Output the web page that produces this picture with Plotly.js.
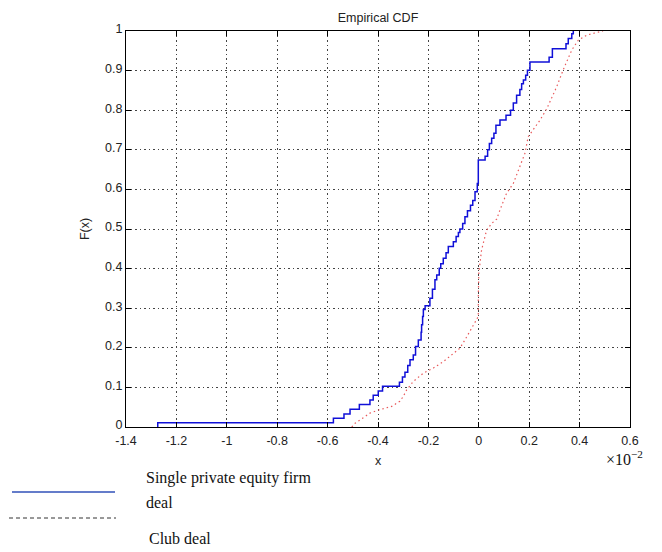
<!DOCTYPE html>
<html>
<head>
<meta charset="utf-8">
<script src="https://cdn.plot.ly/plotly-3.0.1.min.js"></script>
<style>html,body{margin:0;padding:0;background:#fff;}#chart{width:662px;height:552px;}</style>
</head>
<body>
<div id="chart"></div>
<script>
// Single private equity firm deal: ECDF step positions (x, in units of 1e-2) and level after the step
var singleX = [-1.274, -1.274, -0.577, -0.535, -0.511, -0.474, -0.432, -0.419, -0.399, -0.382,
  -0.315, -0.303, -0.293, -0.282, -0.273, -0.260, -0.251, -0.240, -0.229, -0.227,
  -0.223, -0.220, -0.213, -0.194, -0.184, -0.174, -0.167, -0.157, -0.151, -0.141,
  -0.130, -0.121, -0.101, -0.090, -0.081, -0.075, -0.064, -0.055, -0.045, -0.033,
  -0.024, -0.015, -0.006, -0.002, 0.025, 0.035, 0.042, 0.051, 0.060, 0.068,
  0.084, 0.108, 0.126, 0.137, 0.150, 0.163, 0.170, 0.177, 0.186, 0.193,
  0.203, 0.279, 0.292, 0.346, 0.355, 0.369, 0.375];
var singleF = [0.000, 0.011, 0.022, 0.033, 0.045, 0.057, 0.068, 0.080, 0.091, 0.103,
  0.113, 0.126, 0.138, 0.155, 0.170, 0.182, 0.203, 0.220, 0.239, 0.258,
  0.279, 0.297, 0.306, 0.325, 0.348, 0.372, 0.384, 0.401, 0.412, 0.426,
  0.440, 0.456, 0.468, 0.481, 0.491, 0.500, 0.514, 0.531, 0.546, 0.560,
  0.572, 0.594, 0.615, 0.674, 0.684, 0.700, 0.716, 0.729, 0.742, 0.762,
  0.775, 0.787, 0.800, 0.818, 0.838, 0.852, 0.867, 0.876, 0.888, 0.901,
  0.922, 0.934, 0.955, 0.968, 0.981, 0.993, 1.000];

// Club deal: points read along the dotted ECDF
var clubX = [-0.504, -0.490, -0.471, -0.432, -0.392, -0.346, -0.313, -0.300, -0.286, -0.260,
  -0.220, -0.180, -0.141, -0.108, -0.075, -0.055, -0.035, -0.015, -0.002, -0.002,
  0.000, 0.011, 0.031, 0.051, 0.071, 0.084, 0.110, 0.137, 0.163, 0.183,
  0.196, 0.216, 0.243, 0.270, 0.309, 0.335, 0.369, 0.395, 0.430, 0.460, 0.493];
var clubF = [0.000, 0.010, 0.018, 0.035, 0.044, 0.052, 0.065, 0.077, 0.094, 0.115,
  0.136, 0.149, 0.165, 0.182, 0.199, 0.220, 0.241, 0.262, 0.279, 0.329,
  0.388, 0.447, 0.497, 0.514, 0.525, 0.548, 0.590, 0.615, 0.657, 0.691,
  0.733, 0.750, 0.775, 0.804, 0.859, 0.902, 0.952, 0.977, 0.990, 0.995, 1.000];

var xTickVals = [-1.4, -1.2, -1, -0.8, -0.6, -0.4, -0.2, 0, 0.2, 0.4, 0.6];
var xTickText = ["-1.4", "-1.2", "-1", "-0.8", "-0.6", "-0.4", "-0.2", "0", "0.2", "0.4", "0.6"];
var yTickVals = [0, 0.1, 0.2, 0.3, 0.4, 0.5, 0.6, 0.7, 0.8, 0.9, 1];
var yTickText = ["0", "0.1", "0.2", "0.3", "0.4", "0.5", "0.6", "0.7", "0.8", "0.9", "1"];

var titleText = "Empirical CDF";
var xLabel = "x";
var yLabel = "F(x)";
var legendSingle1 = "Single private equity firm";
var legendSingle2 = "deal";
var legendClub = "Club deal";

// layout geometry (pixels)
var W = 662, H = 552, L = 126, R = 630, T = 31, B = 427;
function px(x) { return (x - L) / (R - L); }
function py(y) { return (B - y) / (B - T); }

var traces = [
  {x: clubX, y: clubF, mode: 'lines', line: {color: '#e8585a', width: 1.2, dash: '1.5px,3px'}, hoverinfo: 'skip'},
  {x: singleX, y: singleF, mode: 'lines', line: {color: '#1010d8', width: 1.5, shape: 'hv'}, hoverinfo: 'skip'}
];

var axisFont = {family: 'Liberation Sans, Arial, sans-serif', size: 12.5, color: '#222'};
var serif = {family: 'Liberation Serif, Times New Roman, serif', size: 16, color: '#111'};

var layout = {
  width: W, height: H,
  margin: {l: L, r: W - R, t: T, b: H - B, pad: 0},
  paper_bgcolor: '#fff', plot_bgcolor: '#fff',
  showlegend: false,
  title: {text: titleText, font: {family: 'Liberation Sans, Arial, sans-serif', size: 12.5, color: '#222'},
          xref: 'paper', x: 0.5, xanchor: 'center', yref: 'container', y: 1 - 18 / H, yanchor: 'middle'},
  xaxis: {
    range: [-1.4, 0.6], tickvals: xTickVals, ticktext: xTickText,
    showgrid: true, gridcolor: '#444', griddash: '1.5px,3px', gridwidth: 1,
    zeroline: false, showline: true, linecolor: '#000', linewidth: 1, mirror: 'ticks',
    ticks: 'inside', ticklen: 5, tickcolor: '#000', tickfont: axisFont, ticklabelstandoff: 2,
    title: {text: xLabel, font: axisFont, standoff: 9}
  },
  yaxis: {
    range: [0, 1], tickvals: yTickVals, ticktext: yTickText,
    showgrid: true, gridcolor: '#444', griddash: '1.5px,3px', gridwidth: 1,
    zeroline: false, showline: true, linecolor: '#000', linewidth: 1, mirror: 'ticks',
    ticks: 'inside', ticklen: 5, tickcolor: '#000', tickfont: axisFont, ticklabelshift: -2,
    title: {text: yLabel, font: axisFont, standoff: 12}
  },
  shapes: [
    {type: 'line', xref: 'paper', yref: 'paper', x0: px(12), x1: px(115), y0: py(492), y1: py(492),
     line: {color: '#3050b8', width: 1.3}},
    {type: 'line', xref: 'paper', yref: 'paper', x0: px(9), x1: px(116), y0: py(518), y1: py(518),
     line: {color: '#333', width: 1, dash: '4px,3px'}}
  ],
  annotations: [
    {text: legendSingle1, xref: 'paper', yref: 'paper', x: px(144), y: py(478), xanchor: 'left', yanchor: 'middle',
     showarrow: false, font: serif},
    {text: legendSingle2, xref: 'paper', yref: 'paper', x: px(144), y: py(503), xanchor: 'left', yanchor: 'middle',
     showarrow: false, font: serif},
    {text: legendClub, xref: 'paper', yref: 'paper', x: px(147), y: py(538), xanchor: 'left', yanchor: 'middle',
     showarrow: false, font: serif},
    {text: '\u00d710<sup>\u22122</sup>', xref: 'paper', yref: 'paper', x: px(645), y: py(458), xanchor: 'right', yanchor: 'middle',
     showarrow: false, font: serif}
  ]
};

Plotly.newPlot('chart', traces, layout, {staticPlot: true, displayModeBar: false});
</script>
</body>
</html>
